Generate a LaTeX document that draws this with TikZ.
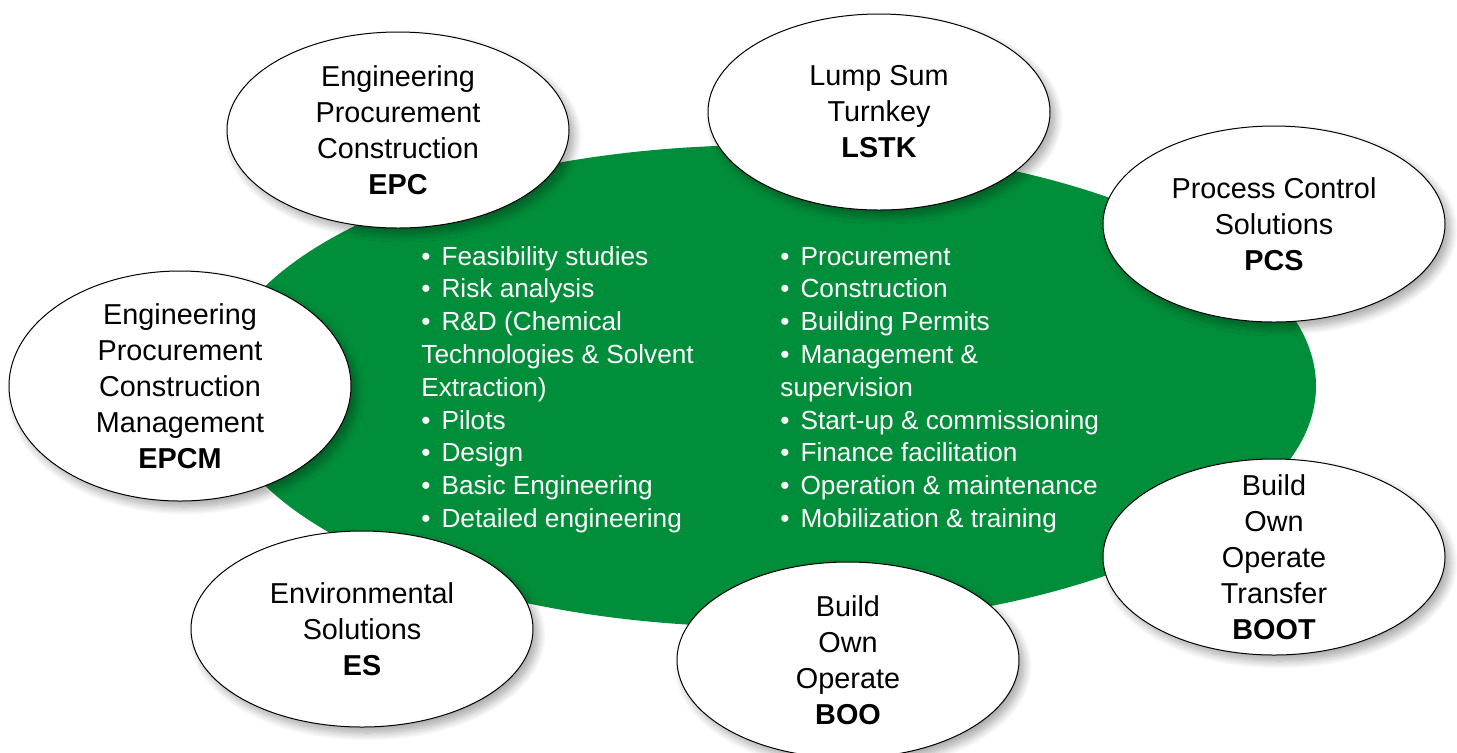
\documentclass[tikz,border=0pt]{standalone}
\usepackage{fontspec}
\setmainfont{Liberation Sans}
\usetikzlibrary{shapes.geometric,shadows.blur}
\definecolor{coregreen}{RGB}{0,142,58}
\newcommand\bulmark{•\hskip 0.42em}
\begin{document}
\begin{tikzpicture}[x=0.5pt,y=-0.5pt,
  bubble/.style={ellipse, draw=black, line width=0.5pt, fill=white,
    minimum width=171pt, minimum height=98pt, inner sep=0pt,
    blur shadow={shadow xshift=2.5pt, shadow yshift=-3pt, shadow blur radius=4pt, shadow blur steps=10, shadow opacity=35}},
  bubtext/.style={align=center, inner sep=0pt, text=black, font=\fontsize{14.4}{18}\selectfont},
  item/.style={anchor=base west, inner sep=0pt, text=white, font=\fontsize{13.1}{16}\selectfont}]
\useasboundingbox (0,0) rectangle (1457,752);
% central green ellipse
\node[ellipse, fill=coregreen, minimum width=550pt, minimum height=241pt, inner sep=0pt] (core) at (766,386) {};
% left column
\foreach \t [count=\i] in {{\bulmark Feasibility studies},{\bulmark Risk analysis},{\bulmark R\&D (Chemical},{Technologies \& Solvent},{Extraction)},{\bulmark Pilots},{\bulmark Design},{\bulmark Basic Engineering},{\bulmark Detailed engineering}}
  \node[item] (L\i) at ({421},{265+(\i-1)*32.8}) {\t};
% right column
\foreach \t [count=\i] in {{\bulmark Procurement},{\bulmark Construction},{\bulmark Building Permits},{\bulmark Management \&},{supervision},{\bulmark Start-up \& commissioning},{\bulmark Finance facilitation},{\bulmark Operation \& maintenance},{\bulmark Mobilization \& training}}
  \node[item] (R\i) at ({780},{265+(\i-1)*32.8}) {\t};
% bubbles
\node[bubble] (epc) at (398,130) {};
\node[bubtext] (epct) at (epc) {Engineering\\Procurement\\Construction\\\textbf{EPC}};
\node[bubble] (lstk) at (879,112) {};
\node[bubtext] (lstkt) at (lstk) {Lump Sum\\Turnkey\\\textbf{LSTK}};
\node[bubble] (pcs) at (1274,224) {};
\node[bubtext] (pcst) at (pcs) {Process Control\\Solutions\\\textbf{PCS}};
\node[bubble, minimum height=115pt] (epcm) at (180,386) {};
\node[bubtext] (epcmt) at (epcm) {Engineering\\Procurement\\Construction\\Management\\\textbf{EPCM}};
\node[bubble] (es) at (362,629) {};
\node[bubtext] (est) at (es) {Environmental\\Solutions\\\textbf{ES}};
\node[bubble] (boo) at (848,660) {};
\node[bubtext] (boot-) at (boo) {Build\\Own\\Operate\\\textbf{BOO}};
\node[bubble] (boot) at (1274,557) {};
\node[bubtext] (boott) at (boot) {Build\\Own\\Operate\\Transfer\\\textbf{BOOT}};
\end{tikzpicture}
\end{document}
